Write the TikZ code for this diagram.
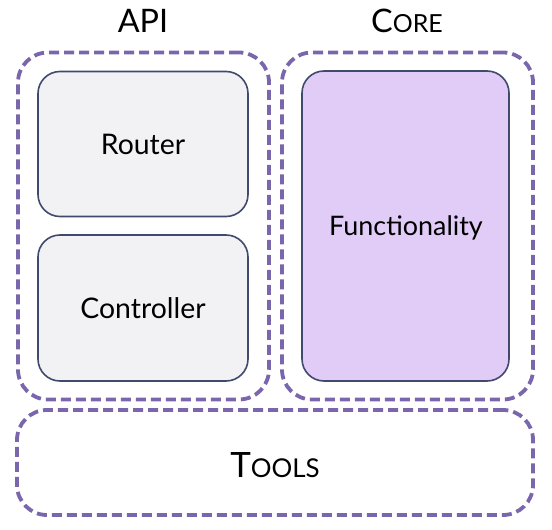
\documentclass[tikz,border=0pt]{standalone}
\usepackage{fontspec}
\setmainfont{Lato}
\definecolor{dashpurple}{RGB}{122,102,172}
\definecolor{boxgray}{RGB}{242,242,244}
\definecolor{boxedge}{RGB}{64,74,108}
\definecolor{lavender}{RGB}{224,204,246}
\newcommand{\fsz}[1]{\fontsize{#1}{#1}\selectfont}
\tikzset{
  container/.style={draw=dashpurple, line width=3.8bp, dash pattern=on 10bp off 5bp, rounded corners=30bp, inner sep=0pt},
  module/.style={draw=boxedge, line width=1.6bp, rounded corners=22bp, fill=boxgray, inner sep=0pt, font=\fsz{28.5}},
  label/.style={font=\fsz{32.5}, inner sep=0pt},
}
\begin{document}
\begin{tikzpicture}[x=1bp,y=-1bp]
\useasboundingbox[fill=white] (0,0) rectangle (552,530);
\node[container, minimum width=251bp, minimum height=347bp] (api) at (143.5,226) {};
\node[container, minimum width=251bp, minimum height=347bp] (core) at (407.5,226) {};
\node[container, minimum width=516bp, minimum height=105bp] (tools) at (275,462.5) {};
\node[label] (apil) at (143,21) {API};
\node[label] (corel) at (407,21) {C{\fsz{25}ORE}};
\node[label, font=\fsz{35}] (toolsl) at (275,465) {T{\fsz{26}OOLS}};
\node[module, minimum width=210bp, minimum height=145bp] (router) at (143,144) {Router};
\node[module, minimum width=210bp, minimum height=146bp] (controller) at (143,308) {Controller};
\node[module, fill=lavender, minimum width=207bp, minimum height=310bp, font=\fsz{27}] (func) at (405.5,226) {};
\node[inner sep=0pt, font=\fsz{27}] (funcl) at (406,228) {Functionality};
\end{tikzpicture}
\end{document}
